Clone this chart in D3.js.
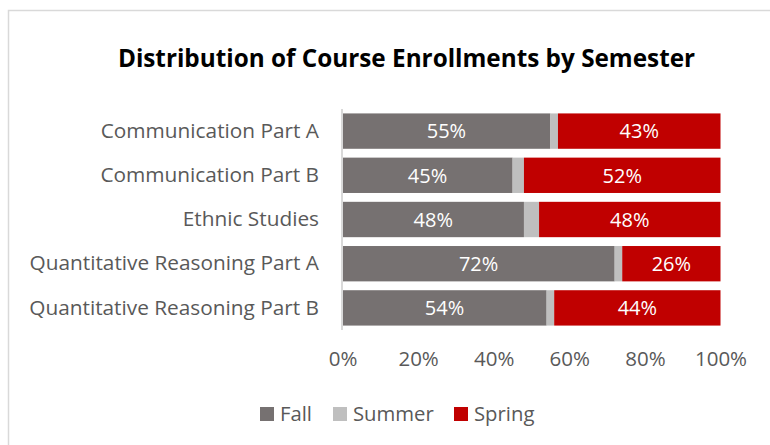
<!DOCTYPE html>
<html>
<head>
<meta charset="utf-8">
<script src="https://cdn.jsdelivr.net/npm/d3@7"></script>
<style>
  html, body { margin: 0; padding: 0; background: #fff; }
  svg { display: block; }
</style>
</head>
<body>
<svg id="chart" width="770" height="445"></svg>
<script>
const categories = ["Communication Part A", "Communication Part B", "Ethnic Studies", "Quantitative Reasoning Part A", "Quantitative Reasoning Part B"];
const seriesNames = ["Fall", "Summer", "Spring"];
const fallValues = [0.55, 0.45, 0.48, 0.72, 0.54];
const summerValues = [0.02, 0.03, 0.04, 0.02, 0.02];
const springValues = [0.43, 0.52, 0.48, 0.26, 0.44];
const tickValues = [0, 0.2, 0.4, 0.6, 0.8, 1.0];
const colors = ["#767171", "#bfbfbf", "#c00000"];
const title = "Distribution of Course Enrollments by Semester";

const FONT = "'Open Sans', sans-serif";
const svg = d3.select("#chart");

// chart border
svg.append("rect").attr("x", 8.5).attr("y", 10.5).attr("width", 800).attr("height", 500)
  .attr("fill", "#fff").attr("stroke", "#d9d9d9").attr("stroke-width", 1.5);

svg.append("text").attr("x", 406.5).attr("y", 67).attr("text-anchor", "middle")
  .attr("font-family", FONT).attr("font-weight", "bold").attr("font-size", 24.3)
  .attr("fill", "#000").text(title);

const x = d3.scaleLinear().domain([0, 1]).range([342.5, 720.5]);
const y = d3.scaleBand().domain(categories).range([109, 330]).paddingInner(0.2).paddingOuter(0.1);

const rows = categories.map((c, i) => ({ cat: c, Fall: fallValues[i], Summer: summerValues[i], Spring: springValues[i] }));
const stack = d3.stack().keys(seriesNames)(rows);

const g = svg.append("g");
stack.forEach((layer, si) => {
  g.selectAll(null).data(layer).enter().append("rect")
    .attr("x", d => x(d[0]))
    .attr("y", d => y(d.data.cat))
    .attr("width", d => x(d[1]) - x(d[0]))
    .attr("height", y.bandwidth())
    .attr("fill", colors[si]);
});

// data labels for Fall and Spring
[0, 2].forEach(si => {
  g.selectAll(null).data(stack[si]).enter().append("text")
    .attr("x", d => (x(d[0]) + x(d[1])) / 2)
    .attr("y", d => y(d.data.cat) + y.bandwidth() / 2)
    .attr("dy", "0.36em")
    .attr("text-anchor", "middle")
    .attr("font-family", FONT).attr("font-size", 20).attr("fill", "#fff")
    .text(d => Math.round((d[1] - d[0]) * 100) + "%");
});

// vertical axis line
svg.append("line").attr("x1", 342).attr("x2", 342).attr("y1", 109).attr("y2", 330)
  .attr("stroke", "#d9d9d9").attr("stroke-width", 2);

// category labels
const yAxis = svg.append("g").attr("transform", "translate(342,0)")
  .call(d3.axisLeft(y).tickSize(0).tickPadding(23));
yAxis.select(".domain").remove();
yAxis.selectAll("text").attr("font-family", FONT).attr("font-size", 20.8).attr("fill", "#595959");

// x axis tick labels
const xAxis = svg.append("g").attr("transform", "translate(0,345)")
  .call(d3.axisBottom(x).tickValues(tickValues).tickSize(0).tickPadding(6).tickFormat(d3.format(".0%")));
xAxis.select(".domain").remove();
xAxis.selectAll("text").attr("font-family", FONT).attr("font-size", 20.5).attr("fill", "#595959");

// legend
const legendX = [260, 333, 454];
const leg = svg.append("g");
seriesNames.forEach((s, i) => {
  leg.append("rect").attr("x", legendX[i]).attr("y", 407).attr("width", 14).attr("height", 14).attr("fill", colors[i]);
  leg.append("text").attr("x", legendX[i] + 20).attr("y", 414).attr("dy", "0.36em")
    .attr("font-family", FONT).attr("font-size", 20.3).attr("fill", "#595959").text(s);
});
</script>
</body>
</html>
